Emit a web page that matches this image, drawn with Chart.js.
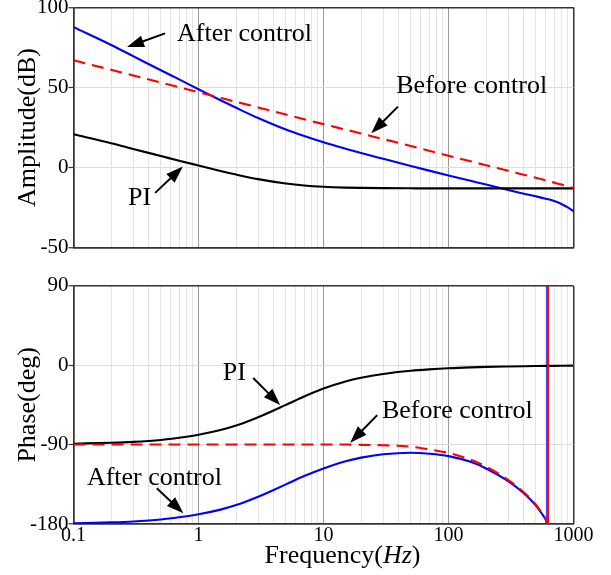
<!DOCTYPE html>
<html>
<head>
<meta charset="utf-8">
<script src="https://cdn.jsdelivr.net/npm/chart.js"></script>
<style>
html,body{margin:0;padding:0;background:#fff;}
#wrap{position:relative;width:611px;height:575px;overflow:hidden;}
.box{position:absolute;left:0;}
</style>
</head>
<body>
<div id="wrap">
  <div class="box" style="top:0;width:611px;height:265px"><canvas id="c1" width="611" height="265"></canvas></div>
  <div class="box" style="top:265px;width:611px;height:310px"><canvas id="c2" width="611" height="310"></canvas></div>
</div>
<script>
// ---------- data ----------
const freq = [0.1,0.2,0.3,0.5,0.7,1,1.5,2,3,5,7,10,15,20,30,50,70,100,150,200,300,400,500,600,700,800,900,1000];
const ampBefore = [67,61,57.5,53,50.1,47,43.5,41,37.5,33.1,30.2,27.1,23.7,21.2,17.8,13.4,10.5,7.4,3.9,1.4,-2.0,-4.5,-6.4,-8.0,-9.4,-10.6,-11.7,-12.8];
const ampAfter  = [87.6,76.5,69.5,60.7,55.0,48.9,42.0,37.3,30.9,23.7,19.7,15.8,11.8,9.1,5.5,1.0,-1.9,-4.9,-8.25,-10.6,-14.0,-16.3,-17.95,-19.4,-20.85,-22.7,-24.8,-27.2];
const ampPI     = [20.8,15.2,11.6,7.2,4.3,1.3,-2.1,-4.35,-7.2,-9.95,-11.2,-12.0,-12.5,-12.7,-12.85,-12.95,-13,-13,-13,-13,-13,-13,-13,-13,-13,-13,-13,-13];

const phFreqBefore = [0.1,0.2,0.3,0.5,0.7,1,1.5,2,3,5,7,10,15,20,30,50,70,100,150,200,300,400,500,550,600,625];
const phBefore     = [-90,-90,-90,-90,-90,-90,-90,-90,-90,-90,-90,-90,-90,-90.3,-90.8,-92.5,-95.5,-99.5,-107,-115,-130,-144,-158,-166,-174,-180];
const phFreqAfter  = [0.1,0.2,0.3,0.5,0.7,1,1.5,2,3,5,7,10,15,20,30,50,70,100,150,200,300,400,500,550,600,615];
const phAfter      = [-179.2,-178.1,-177.1,-174.9,-172.4,-169,-163.7,-158.6,-149.1,-135.1,-125.7,-117,-109,-104.8,-101,-99.2,-100.4,-103.1,-109.6,-117.1,-131.5,-145.1,-159,-167,-175.4,-180];
const piFreq       = [0.1,0.2,0.3,0.5,0.7,1,1.5,2,3,5,7,10,15,20,30,50,70,100,150,200,300,400,500,700,1000];
const phPI         = [-89,-88,-87,-84.8,-82.3,-78.9,-73.6,-68.5,-59,-45,-35.5,-26.5,-18.5,-14.3,-10,-6.4,-4.8,-3.5,-2.5,-2,-1.5,-1.2,-1,-0.8,-0.6];
const wrapFreqBefore = [625,625];
const wrapFreqAfter  = [615,615];
const wrapPhase      = [-180,90];

const decades = [0.1,1,10,100,1000];
const decadeLabels = ['0.1','1','10','100','1000'];
const ampTicks = [-50,0,50,100];
const phaseTicks = [-180,-90,0,90];

// annotations: text anchor (left baseline) and arrow tail/head in data coordinates
const ampNotes = [
  {text:'After control',  at:[0.674,79.0],  tail:[0.540,83.7], head:[0.268,75.2]},
  {text:'Before control', at:[38.2,46.5],   tail:[39.4,38.0],  head:[24.1,21.4]},
  {text:'PI',             at:[0.273,-23.3], tail:[0.450,-15.8], head:[0.749,0.6]}
];
const phaseNotes = [
  {text:'PI',             at:[1.565,-16.9], tail:[2.74,-14.6], head:[4.50,-45.2]},
  {text:'Before control', at:[29.35,-59.9], tail:[26.9,-56.6], head:[16.36,-87.9]},
  {text:'After control',  at:[0.128,-135.8], tail:[0.464,-139.6], head:[0.757,-167.9]}
];

// ---------- styling ----------
const FONT = '"Liberation Serif","Times New Roman",serif';
Chart.defaults.font.family = FONT;
Chart.defaults.color = '#000';
const EDGE = '#333333', MAJOR = '#9a9a9a', MINOR = '#e4e4e4', HGRID = '#dedede';
const BLUE = '#0000ff', RED = '#ff0000', BLACK = '#000000';

const gridTicks = [];
for (let i = 0; i < 4; i++) for (let m = 1; m < 10; m++) gridTicks.push(Number((decades[i]*m).toPrecision(3)));
gridTicks.push(1000);

const pts = (xs, ys) => xs.map((x, i) => ({x, y: ys[i]}));

function annoPlugin(items) {
  return {
    id: 'anno',
    afterDatasetsDraw(chart) {
      const {ctx} = chart, xs = chart.scales.x, ys = chart.scales.y;
      ctx.save();
      ctx.font = '26px ' + FONT;
      ctx.fillStyle = '#000'; ctx.strokeStyle = '#000';
      ctx.textAlign = 'left'; ctx.textBaseline = 'alphabetic';
      items.forEach(a => {
        ctx.fillText(a.text, xs.getPixelForValue(a.at[0]), ys.getPixelForValue(a.at[1]));
        const x0 = xs.getPixelForValue(a.tail[0]), y0 = ys.getPixelForValue(a.tail[1]);
        const x1 = xs.getPixelForValue(a.head[0]), y1 = ys.getPixelForValue(a.head[1]);
        const ang = Math.atan2(y1 - y0, x1 - x0), L = 17, W = 6;
        const bx = x1 - L*Math.cos(ang), by = y1 - L*Math.sin(ang);
        ctx.lineWidth = 2;
        ctx.beginPath(); ctx.moveTo(x0, y0); ctx.lineTo(bx + 2*Math.cos(ang), by + 2*Math.sin(ang)); ctx.stroke();
        ctx.beginPath(); ctx.moveTo(x1, y1);
        ctx.lineTo(bx - W*Math.sin(ang), by + W*Math.cos(ang));
        ctx.lineTo(bx + W*Math.sin(ang), by - W*Math.cos(ang));
        ctx.closePath(); ctx.fill();
      });
      ctx.restore();
    }
  };
}

const xTitlePlugin = {
  id: 'xtitle',
  afterDraw(chart) {
    const {ctx, chartArea} = chart;
    const parts = [['Frequency(', 'normal'], ['Hz', 'italic'], [')', 'normal']];
    ctx.save();
    ctx.fillStyle = '#000'; ctx.textBaseline = 'alphabetic'; ctx.textAlign = 'left';
    let total = 0;
    parts.forEach(p => { ctx.font = p[1] + ' 26px ' + FONT; total += ctx.measureText(p[0]).width; });
    let x = (chartArea.left + chartArea.right)/2 + 19 - total/2;
    const y = chartArea.bottom + 39;
    parts.forEach(p => { ctx.font = p[1] + ' 26px ' + FONT; ctx.fillText(p[0], x, y); x += ctx.measureText(p[0]).width; });
    ctx.restore();
  }
};

function xScale(showLabels, axisHeight) {
  return {
    type: 'logarithmic', min: 0.1, max: 1000,
    afterBuildTicks: s => { s.ticks = gridTicks.map(v => ({value: v, major: decades.includes(v)})); },
    afterFit: s => { s.height = axisHeight; s.paddingLeft = 0; s.paddingRight = 0; },
    ticks: {
      display: showLabels, autoSkip: false, maxRotation: 0, minRotation: 0, padding: 0,
      font: {size: 20, family: FONT}, color: '#000',
      callback: v => { const i = decades.indexOf(v); return i >= 0 ? decadeLabels[i] : ''; }
    },
    grid: {
      drawTicks: false,
      color: c => { const v = c.tick.value; if (v === 0.1 || v === 1000) return EDGE; return decades.includes(v) ? MAJOR : MINOR; },
      lineWidth: c => { const v = c.tick.value; return (v === 0.1 || v === 1000) ? 1.5 : 1; }
    },
    border: {display: true, color: EDGE, width: 1.5}
  };
}

function yScale(min, max, ticks, title) {
  return {
    type: 'linear', min, max,
    afterBuildTicks: s => { s.ticks = ticks.map(v => ({value: v})); },
    afterFit: s => { s.width = 73.5; s.paddingTop = 0; s.paddingBottom = 0; },
    ticks: {font: {size: 21, family: FONT}, color: '#000', padding: 0},
    grid: {
      drawTicks: true, tickLength: 5, tickColor: EDGE, tickWidth: 1.2,
      color: c => (c.tick.value === min || c.tick.value === max) ? EDGE : HGRID,
      lineWidth: c => (c.tick.value === min || c.tick.value === max) ? 1.5 : 1
    },
    border: {display: true, color: EDGE, width: 1.5},
    title: {display: true, text: title, font: {size: 26, family: FONT, lineHeight: 1}, color: '#000', padding: {top: 15, bottom: 0}}
  };
}

const lineDs = (data, color, extra) => Object.assign({
  data, borderColor: color, borderWidth: 2.1, pointRadius: 0, fill: false,
  cubicInterpolationMode: 'monotone', spanGaps: false
}, extra || {});

const common = {
  responsive: false, animation: false, events: [],
  plugins: {legend: {display: false}, tooltip: {enabled: false}}
};

new Chart(document.getElementById('c1'), {
  type: 'line',
  data: {datasets: [
    lineDs(pts(freq, ampBefore), RED, {borderDash: [12, 7], order: 0}),
    lineDs(pts(freq, ampPI), BLACK, {order: 1}),
    lineDs(pts(freq, ampAfter), BLUE, {order: 2})
  ]},
  options: Object.assign({}, common, {
    layout: {padding: {left: 0, right: 37.5, top: 7.3, bottom: 0}},
    scales: {x: xScale(false, 17.3), y: yScale(-50, 100, ampTicks, 'Amplitude(dB)')}
  }),
  plugins: [annoPlugin(ampNotes)]
});

new Chart(document.getElementById('c2'), {
  type: 'line',
  data: {datasets: [
    lineDs(pts(wrapFreqBefore, wrapPhase), RED, {order: 0, cubicInterpolationMode: 'default', tension: 0, borderWidth: 2}),
    lineDs(pts(phFreqBefore, phBefore), RED, {borderDash: [12, 7], order: 1}),
    lineDs(pts(piFreq, phPI), BLACK, {order: 2}),
    lineDs(pts(wrapFreqAfter, wrapPhase), BLUE, {order: 3, cubicInterpolationMode: 'default', tension: 0, borderWidth: 1.6}),
    lineDs(pts(phFreqAfter, phAfter), BLUE, {order: 4})
  ]},
  options: Object.assign({}, common, {
    layout: {padding: {left: 0, right: 37.5, top: 20.7, bottom: 0}},
    scales: {x: xScale(true, 51), y: yScale(-180, 90, phaseTicks, 'Phase(deg)')}
  }),
  plugins: [annoPlugin(phaseNotes), xTitlePlugin]
});
</script>
</body>
</html>
